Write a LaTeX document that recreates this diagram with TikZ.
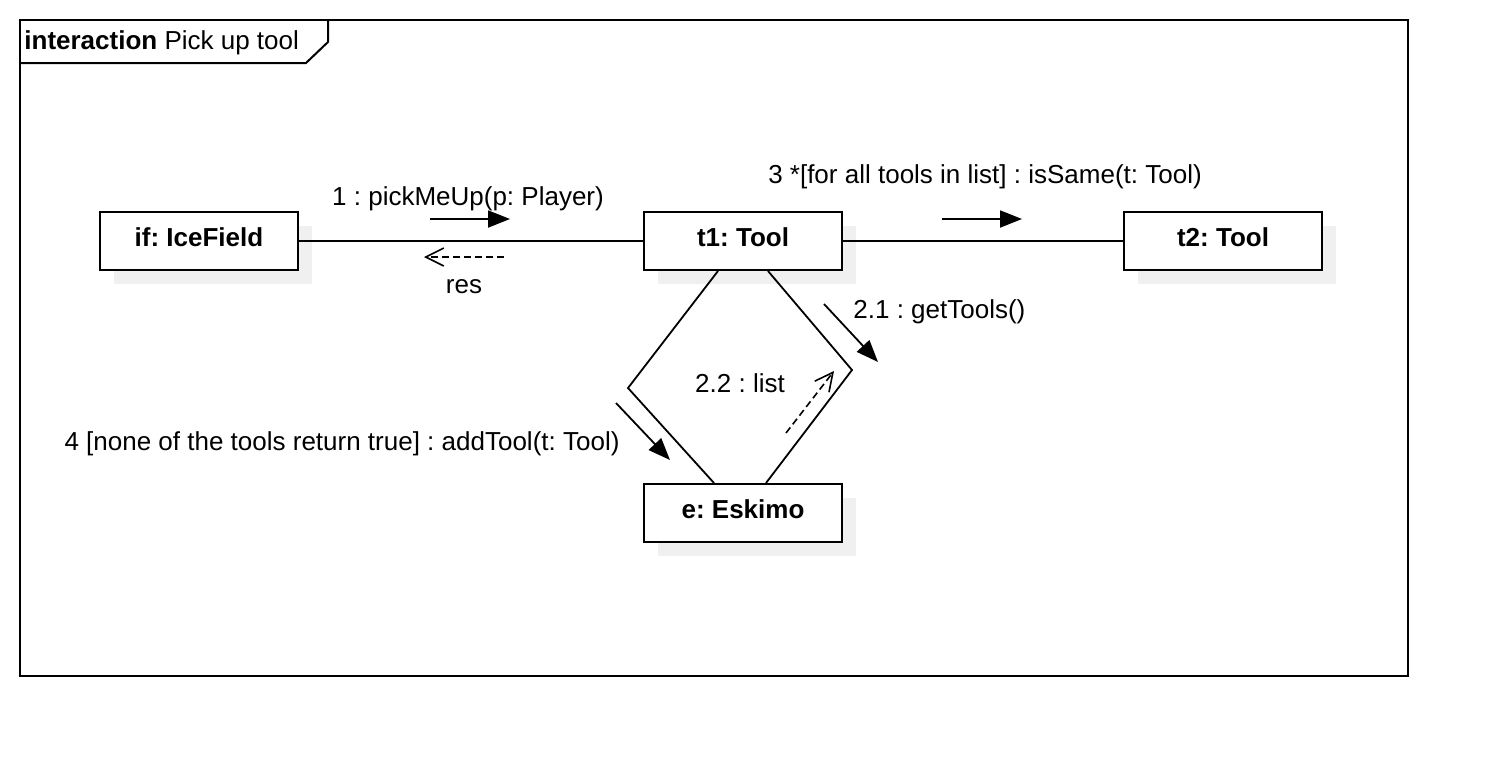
\documentclass[tikz,border=0pt]{standalone}
\usepackage{fontspec}
\setmainfont{Liberation Sans}
\usetikzlibrary{arrows.meta}
\usetikzlibrary{shadows}
\frenchspacing

\tikzset{
  obj/.style={draw, line width=1pt, fill=white, minimum width=99pt, minimum height=29pt,
    inner sep=0pt, text depth=4pt, font=\fontsize{13}{15}\selectfont\bfseries,
    drop shadow={shadow xshift=7pt, shadow yshift=-7pt, fill=black!6, opacity=1}},
  link/.style={line width=0.9pt},
  msg/.style={line width=0.9pt, -{Triangle[length=11pt,width=8.5pt]}},
  ret/.style={line width=0.8pt, dash pattern=on 3.5pt off 2pt, -{Straight Barb[length=9pt,width=9pt]}},
  lbl/.style={anchor=base, inner sep=0pt},
}

\begin{document}
\begin{tikzpicture}[x=0.5pt, y=-0.5pt, font=\fontsize{13}{15}\selectfont]
  \useasboundingbox (0,0) rectangle (1488,756);
  % frame with tab
  \draw[line width=1pt] (20,20) rectangle (1408,676);
  \draw[line width=1pt] (20,63) -- (306,63) -- (328,42) -- (328,20);
  \node[anchor=base west, inner sep=0pt] (title) at (24,49) {\textbf{interaction} Pick up tool};

  % objects
  \node[obj] (ice) at (199,241) {if: IceField};
  \node[obj] (t1) at (743,241) {t1: Tool};
  \node[obj] (t2) at (1223,241) {t2: Tool};
  \node[obj] (esk) at (743,513) {e: Eskimo};

  % links
  \draw[link] (ice) -- (t1);
  \draw[link] (t1) -- (t2);
  \coordinate (bendL) at (628,388);
  \coordinate (bendR) at (852,370);
  \draw[link] ([xshift=-12.5pt]t1.south) -- (bendL) -- ([xshift=-14.5pt]esk.north);
  \draw[link] ([xshift=12.5pt]t1.south) -- (bendR) -- ([xshift=11.5pt]esk.north);

  % messages
  \coordinate (m1a) at (430,219); \coordinate (m1b) at (510,219);
  \coordinate (r1a) at (504,257); \coordinate (r1b) at (424,257);
  \coordinate (m3a) at (942,219); \coordinate (m3b) at (1022,219);
  \coordinate (m21a) at (824,304); \coordinate (m21b) at (878,362);
  \coordinate (r22a) at (786,433); \coordinate (r22b) at (834,371);
  \coordinate (m4a) at (616,403); \coordinate (m4b) at (670,460);
  \draw[msg] (m1a) -- (m1b);
  \draw[ret] (r1a) -- (r1b);
  \draw[msg] (m3a) -- (m3b);
  \draw[msg] (m21a) -- (m21b);
  \draw[ret] (r22a) -- (r22b);
  \draw[msg] (m4a) -- (m4b);

  % message labels
  \node[lbl] (l1) at (468,205) {1 : pickMeUp(p: Player)};
  \node[lbl] (lres) at (464,293) {res};
  \node[lbl] (l3) at (985,183) {3 *[for all tools in list] : isSame(t: Tool)};
  \node[lbl, anchor=base west] (l21) at (853,318) {2.1 : getTools()};
  \node[lbl] (l22) at (740,392) {2.2 : list};
  \node[lbl] (l4) at (342,450) {4 [none of the tools return true] : addTool(t: Tool)};
\end{tikzpicture}
\end{document}
